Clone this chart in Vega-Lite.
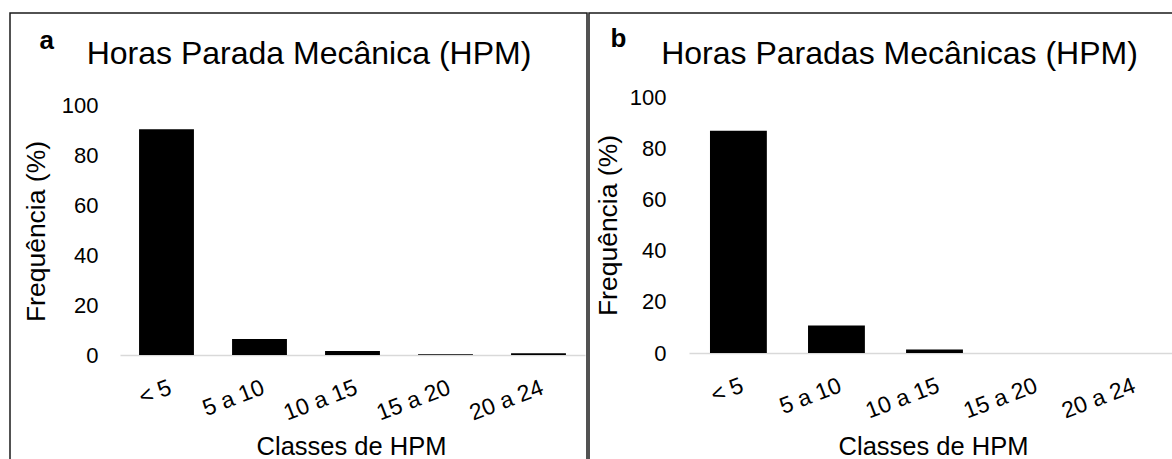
{
  "$schema": "https://vega.github.io/schema/vega-lite/v6.json",
  "padding": {"left": 9, "top": 12, "right": 0, "bottom": 0},
  "background": "white",
  "spacing": 0,
  "config": {
    "font": "Liberation Sans",
    "view": {"stroke": "#1a1a1a", "strokeWidth": 1.5},
    "axis": {"labelColor": "black", "titleColor": "black", "titleFontWeight": "normal", "grid": false, "ticks": false, "tickSize": 0, "labelFont": "Liberation Sans", "titleFont": "Liberation Sans"},
    "title": {"color": "black", "fontWeight": "normal", "fontSize": 32, "font": "Liberation Sans"}
  },
  "datasets": {
    "a": [
      {"classe": "< 5", "freq": 90.3},
      {"classe": "5 a 10", "freq": 6.4},
      {"classe": "10 a 15", "freq": 1.6},
      {"classe": "15 a 20", "freq": 0.3},
      {"classe": "20 a 24", "freq": 0.7}
    ],
    "b": [
      {"classe": "< 5", "freq": 86.8},
      {"classe": "5 a 10", "freq": 10.7},
      {"classe": "10 a 15", "freq": 1.4},
      {"classe": "15 a 20", "freq": 0},
      {"classe": "20 a 24", "freq": 0}
    ]
  },
  "hconcat": [
    {
      "width": 577,
      "height": 460,
      "data": {"name": "a"},
      "title": {"text": "Horas Parada Mecânica (HPM)", "anchor": "middle", "frame": "group", "dx": 10.5, "offset": -58},
      "encoding": {
        "y": {
          "field": "freq", "type": "quantitative",
          "scale": {"domain": [0, 100], "range": [342, 92]},
          "axis": {"title": "Frequência (%)", "values": [0, 20, 40, 60, 80, 100], "offset": -88, "domain": false, "labelPadding": 0, "labelFontSize": 22, "titleFontSize": 26.5, "titleX": -62, "titleY": 218, "titleBaseline": "middle", "titleAlign": "center"}
        }
      },
      "layer": [
        {
          "mark": {"type": "bar", "color": "black"},
          "encoding": {
            "x": {
              "field": "classe", "type": "nominal", "sort": null,
              "scale": {"range": [110, 575], "paddingInner": 0.41, "paddingOuter": 0.205},
              "axis": {"orient": "bottom", "title": "Classes de HPM", "offset": -118, "labelAngle": -21, "labelAlign": "right", "labelBaseline": "top", "labelPadding": 21, "labelFontSize": 23, "labelOverlap": false, "domainColor": "#d9d9d9", "domainWidth": 1.5, "titleFontSize": 25.5, "titleX": 341, "titleY": 99, "titleBaseline": "alphabetic", "titleAlign": "center"}
            }
          }
        },
        {
          "mark": {"type": "bar", "opacity": 0},
          "encoding": {
            "x": {
              "field": "classe", "type": "nominal", "sort": null,
              "axis": {"orient": "top", "labels": false, "domain": false, "ticks": false, "title": "a", "titleFontSize": 26, "titleFontWeight": "bold", "titleX": 29, "titleY": 35, "titleAlign": "left", "titleBaseline": "alphabetic", "titleAngle": 0, "offset": 0}
            }
          }
        }
      ],
      "resolve": {"axis": {"x": "independent"}}
    },
    {
      "width": 600,
      "height": 460,
      "data": {"name": "b"},
      "title": {"text": "Horas Paradas Mecânicas (HPM)", "anchor": "middle", "frame": "group", "dx": 10.5, "offset": -58},
      "encoding": {
        "y": {
          "field": "freq", "type": "quantitative",
          "scale": {"domain": [0, 100], "range": [340, 84]},
          "axis": {"title": "Frequência (%)", "values": [0, 20, 40, 60, 80, 100], "offset": -77, "domain": false, "labelPadding": 0, "labelFontSize": 22, "titleFontSize": 26.5, "titleX": -58, "titleY": 212, "titleBaseline": "middle", "titleAlign": "center"}
        }
      },
      "layer": [
        {
          "mark": {"type": "bar", "color": "black"},
          "encoding": {
            "x": {
              "field": "classe", "type": "nominal", "sort": null,
              "scale": {"range": [100, 591], "paddingInner": 0.42, "paddingOuter": 0.214},
              "axis": {"orient": "bottom", "title": "Classes de HPM", "offset": -120, "labelAngle": -21, "labelAlign": "right", "labelBaseline": "top", "labelPadding": 21, "labelFontSize": 23, "labelOverlap": false, "domainColor": "#d9d9d9", "domainWidth": 1.5, "titleFontSize": 25.5, "titleX": 344, "titleY": 101, "titleBaseline": "alphabetic", "titleAlign": "center"}
            }
          }
        },
        {
          "mark": {"type": "bar", "opacity": 0},
          "encoding": {
            "x": {
              "field": "classe", "type": "nominal", "sort": null,
              "axis": {"orient": "top", "labels": false, "domain": false, "ticks": false, "title": "b", "titleFontSize": 26, "titleFontWeight": "bold", "titleX": 21, "titleY": 33, "titleAlign": "left", "titleBaseline": "alphabetic", "titleAngle": 0, "offset": 0}
            }
          }
        }
      ],
      "resolve": {"axis": {"x": "independent"}}
    }
  ]
}
